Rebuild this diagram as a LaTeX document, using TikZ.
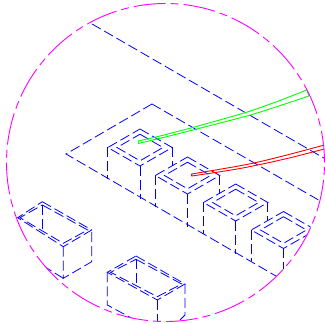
\documentclass[tikz,border=0pt]{standalone}
\definecolor{bluex}{RGB}{0,0,255}
\definecolor{magx}{RGB}{255,0,255}
\definecolor{greenx}{RGB}{0,255,0}
\definecolor{redx}{RGB}{255,0,0}
\tikzset{
  bl/.style={draw=bluex,line width=0.8pt,dash pattern=on 10pt off 4pt},
  ring/.style={draw=magx,line width=0.9pt,dash pattern=on 32pt off 5pt on 8pt off 5pt,dash phase=32.5pt},
  wire/.style={line width=0.9pt,line join=round}
}
\newcommand{\rhomb}[8]{\draw[bl] (#1,#2)--(#3,#4)--(#5,#6)--(#7,#8)--cycle;}
% small box: cx, top y
\newcommand{\cube}[2]{%
  \rhomb{#1}{#2}{#1+32.2}{#2+18.5}{#1}{#2+37}{#1-32.2}{#2+18.5}
  \rhomb{#1}{#2+5.2}{#1+23}{#2+18.5}{#1}{#2+31.8}{#1-23}{#2+18.5}
  \draw[bl] (#1,#2+37)--(#1,#2+70);
  \draw[bl] (#1-32.2,#2+18.5)--(#1-32.2,#2+50);
  \draw[bl] (#1+32.2,#2+18.5)--(#1+32.2,#2+37);
}
\begin{document}
\begin{tikzpicture}[x=1pt,y=-1pt]
\useasboundingbox (0,0) rectangle (325,324);
\begin{scope}
\clip (165.5,162.5) circle[radius=159];
\draw[bl] (80,17)--(335,164.5);
\draw[bl] (152,104)--(66,154)--(300,290);
\draw[bl] (152,104)--(335,209.5);
\cube{140}{129}
\cube{187.5}{157}
\cube{235.7}{184}
\cube{283.5}{211.5}
% left box
\rhomb{42.3}{201.7}{91.7}{230}{63.3}{246.7}{17.7}{217.7}
\rhomb{42.3}{205}{87.7}{230}{63.3}{243.3}{20}{217.7}
\draw[bl] (63.3,246.7)--(63.3,278.3)--(91.7,261.7)--(91.7,230);
\draw[bl] (42.3,205)--(42.3,232.3);
\draw[bl] (63.3,278.3)--(17.7,250);
% lower box
\rhomb{136}{256}{185}{284}{157.3}{300}{107.3}{272.3}
\rhomb{136}{259.3}{181.7}{284}{157.3}{296.7}{110.7}{272.3}
\draw[bl] (157.3,300)--(157.3,325);
\draw[bl] (107.3,272.3)--(107.3,305)--(135,320);
\draw[bl] (185,284)--(185,315)--(178,322);
\draw[bl] (136,259.3)--(136,286.7);
% wires
\draw[wire,greenx] plot[smooth] coordinates {(138.3,141)(160,136)(193.3,127.3)(245,112.7)(276.7,101.7)(306.7,90)} -- (309,96)
  plot[smooth] coordinates {(309,96)(276.7,106.7)(248,115.7)(193,130)(160,138.3)(138.3,143.5)} -- (138.3,141);
\draw[wire,redx] plot[smooth] coordinates {(191.7,174)(246.7,164.5)(285,155.5)(330,143.5)}
  plot[smooth] coordinates {(330,147.5)(285,159)(240,168.5)(191.7,176)} -- (191.7,174);
\end{scope}
\draw[ring] (165.5,162.5) circle[radius=159];
\end{tikzpicture}
\end{document}
